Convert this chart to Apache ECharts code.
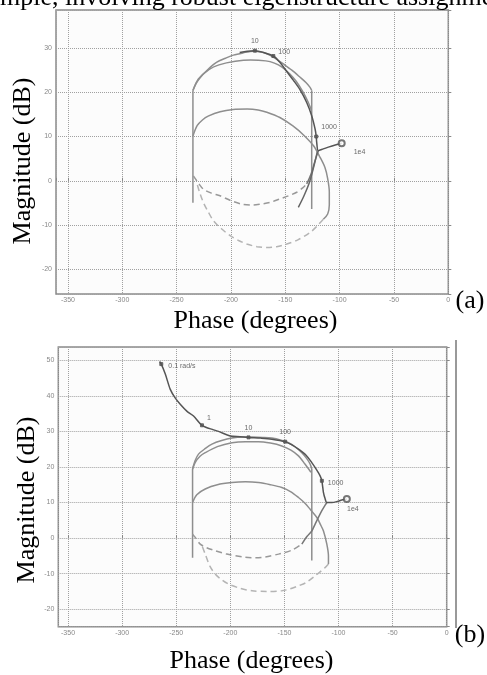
<!DOCTYPE html>
<html>
<head>
<meta charset="utf-8">
<script src="https://cdn.jsdelivr.net/npm/echarts@6/dist/echarts.min.js"></script>
<style>
html, body { margin: 0; padding: 0; background: #fff; }
#chart { width: 487px; height: 675px; }
</style>
</head>
<body>
<div id="chart"></div>
<script>
// ---- (a) phase (deg), magnitude (dB) ----
const aLeftEdge = [[-235, -5], [-235, 20.4]]
const aRightEdge = [[-125.7, 20.4], [-125.7, -6.4]]
const aOuterArc = [[-235, 20.4], [-232, 22], [-228.4, 23.3], [-221, 25.2], [-213, 26.8], [-205, 27.7], [-197.8, 28.4], [-189, 28.9], [-179.4, 29.3], [-172, 29.1], [-167, 28.7], [-160, 27.8], [-151.8, 26.4], [-144, 25], [-136.4, 23.4], [-131, 22.2], [-127.2, 21.1], [-125.7, 20.4]]
const aInnerArc = [[-235, 20.4], [-230, 23], [-220, 25.2], [-211, 26.2], [-196, 27], [-182, 27.3], [-168, 27.1], [-160, 26.6], [-153, 25.7], [-146, 24.2], [-140, 22.5], [-134, 20.2], [-129, 17.8], [-126, 16]]
const aLowerArc = [[-235, 10.1], [-231, 12.5], [-226, 13.8], [-221, 14.6], [-210, 15.6], [-198, 16.1], [-185, 16.2], [-175, 16], [-167, 15.5], [-155, 14.3], [-143, 12.4], [-133, 10.3], [-124, 7.9], [-118, 5.3], [-113.5, 3], [-111, 0.5], [-109.5, -2.5], [-109.5, -5.5], [-111, -7.5], [-115, -8.7]]
const aLowerDashed = [[-115, -8.7], [-121, -10.3], [-127.2, -11.7], [-138, -13.3], [-148.7, -14.3], [-158, -14.9], [-167.1, -15.1], [-176, -14.9], [-185.5, -14.3], [-193, -13.5], [-200.8, -12.4], [-209, -10.8], [-216.2, -9], [-221, -7], [-225.4, -4.9], [-229, -2.5], [-231.5, -0.4]]
const aInnerDashed = [[-234.6, 1.1], [-230, -0.5], [-225.4, -1.9], [-218, -2.8], [-210, -3.4], [-200, -4.5], [-190, -5.3], [-181, -5.5], [-173.2, -5.3], [-164, -4.9], [-154.9, -4.1], [-147, -3.4], [-139.5, -2.6], [-134, -1.6], [-130.3, -0.7]]
const aRising = [[-130.3, -0.7], [-128, 0.5], [-125.7, 1.9], [-123.5, 3.8], [-121.1, 5.7], [-119.6, 6.8]]
const aFalling = [[-120.5, 6.6], [-124, 3], [-128, -0.5], [-133, -3.5], [-138, -6]]
const aMain = [[-192, 29], [-185, 29.3], [-178, 29.4], [-170, 29], [-161, 28.2], [-155, 26.8], [-149, 24.8], [-142.5, 22.7], [-136.5, 20.6], [-130.3, 17.7], [-125.7, 14.7], [-122.6, 11.7], [-121.5, 10], [-121.1, 8.7], [-119.6, 6.8], [-115, 7.2], [-110.4, 7.6], [-104, 8.1], [-98.1, 8.5]]
const aMarkNames = ['10', '100', '1000', '1e4']
const aMarkPoints = [[-178, 29.4], [-161, 28.2], [-121.5, 10], [-98.1, 8.5]]

// ---- (b) ----
const bLeftEdge = [[-234.9, -5.5], [-234.9, 19.4]]
const bRightEdge = [[-124.7, 19.4], [-124.7, -6.3]]
const bOuterArc = [[-234.9, 19.4], [-232.5, 21.8], [-229.4, 23.6], [-223, 25.2], [-217, 26.4], [-208, 27.4], [-198.5, 28.1], [-189, 28.4], [-180, 28.4], [-170, 28.3], [-161.6, 28.1], [-153, 27.5], [-146.3, 26.8], [-140, 25.6], [-133.9, 24], [-129.5, 22.4], [-126.2, 20.8], [-124.7, 19.4]]
const bInnerArc = [[-234.9, 19.4], [-232.4, 21.3], [-228, 23], [-223.2, 24], [-212, 25.7], [-198.5, 26.8], [-186, 27.1], [-174, 27.1], [-163, 26.7], [-152.4, 25.9], [-144, 24.7], [-137, 23.1], [-131, 20.8], [-125.5, 18.5]]
const bLowerArc = [[-234.9, 10], [-231, 12.2], [-223.2, 13.8], [-212, 15], [-198.5, 15.6], [-186, 15.8], [-174, 15.6], [-163, 15], [-152.4, 14.2], [-144, 13], [-137, 11.4], [-131, 9.8], [-126.2, 8.1], [-120, 5.8], [-117, 4], [-113.9, 2], [-110.8, -1.7], [-109.3, -5], [-109.3, -7.3]]
const bLowerDashed = [[-109.3, -7.3], [-112.4, -8.3], [-121.6, -10.6], [-130, -12.5], [-137, -13.4], [-145, -14.3], [-152.4, -14.8], [-166, -15], [-180, -14.8], [-191, -14.1], [-201.7, -12.9], [-208, -11.7], [-214, -10.1], [-219, -7.8], [-223.2, -4.5], [-227, -1.5]]
const bInnerDashed = [[-234.9, 1.1], [-232.4, 0.2], [-227.8, -1.7], [-222, -2.7], [-215.5, -3.4], [-203.2, -4.5], [-186.3, -5.4], [-177, -5.5], [-167.8, -5.3], [-155.5, -4.5], [-143.1, -3.4], [-133.9, -1.7]]
const bRising = [[-133.9, -1.7], [-129, 0.5], [-124.7, 2], [-121.5, 4], [-118.6, 5.8], [-115.4, 7.7], [-112.5, 9.2], [-110.8, 10]]
const bMain = [[-265.4, 49.6], [-263.8, 48.9], [-260.1, 46.1], [-255.5, 41.8], [-251, 39.4], [-246.3, 37.6], [-240, 35.6], [-234, 34.3], [-226.2, 31.7], [-215.5, 30.4], [-210.9, 30], [-200.1, 28.7], [-191, 28.5], [-183.2, 28.3], [-172, 28.1], [-161.6, 27.8], [-149.3, 27.1], [-143, 26.2], [-137, 25], [-130, 23.3], [-124.7, 21.2], [-120.5, 19.3], [-117, 17.5], [-115.4, 16.1], [-113.9, 12.8], [-112.5, 11.2], [-110.8, 10], [-106.2, 10], [-101, 10.3], [-97, 10.7], [-92.3, 11]]
const bMarkNames = ['0.1 rad/s', '1', '10', '100', '1000', '1e4']
const bMarkPoints = [[-263.8, 48.9], [-226.2, 31.7], [-183.2, 28.3], [-149.3, 27.1], [-115.4, 16.1], [-92.3, 11]]

// label placement per chart
const aLabelPos = {
  '10': { position: 'top', distance: 4 },
  '100': { position: 'right', distance: 3, offset: [0, -4] },
  '1000': { position: 'right', distance: 3, offset: [0, -9] },
  '1e4': { position: 'right', distance: 8, offset: [0, 9] }
}
const bLabelPos = {
  '0.1 rad/s': { position: 'right', distance: 5, offset: [0, 2] },
  '1': { position: 'right', distance: 3, offset: [0, -7] },
  '10': { position: 'top', distance: 4 },
  '100': { position: 'top', distance: 4 },
  '1000': { position: 'right', distance: 4, offset: [0, 2] },
  '1e4': { position: 'bottom', distance: 3, offset: [6, 0] }
}

const chart = echarts.init(document.getElementById('chart'))

const serif = '"Liberation Serif", "Times New Roman", serif'

const line = (data, gi, color, width, type) => ({
  type: 'line',
  xAxisIndex: gi,
  yAxisIndex: gi,
  data,
  showSymbol: false,
  smooth: 0.3,
  lineStyle: { color, width, type: type || 'solid' },
  silent: true,
  z: 3
})

const marks = (names, points, gi, pos) => ({
  type: 'scatter',
  xAxisIndex: gi,
  yAxisIndex: gi,
  data: points.map((p, i) => ({
    name: names[i],
    value: p,
    symbol: names[i] === '1e4' ? 'emptyCircle' : 'rect',
    symbolSize: names[i] === '1e4' ? 6 : 3,
    label: Object.assign({ show: true }, pos[names[i]])
  })),
  itemStyle: { color: '#555', borderColor: '#555', borderWidth: 1 },
  label: { formatter: '{b}', fontSize: 7, color: '#444', fontFamily: 'Arial, sans-serif' },
  z: 5
})

const xAxisOf = (gi, min) => ({
  gridIndex: gi,
  type: 'value',
  min,
  max: 0,
  splitNumber: 7,
  minInterval: 50,
  maxInterval: 50,
  axisLine: { show: false },
  axisTick: { inside: true, length: 3, lineStyle: { color: '#888' } },
  axisLabel: {
    fontSize: 7,
    color: '#888',
    margin: 3,
    formatter: v => (Math.abs(v % 50) < 1e-6 ? String(v) : '')
  },
  splitLine: { show: true, lineStyle: { color: '#a0a0a0', type: 'dotted', width: 1 } }
})

const yAxisOf = (gi, min, max) => ({
  gridIndex: gi,
  type: 'value',
  min,
  max,
  splitNumber: 7,
  minInterval: 10,
  maxInterval: 10,
  axisLine: { show: false },
  axisTick: { inside: true, length: 3, lineStyle: { color: '#888' } },
  axisLabel: {
    fontSize: 7,
    color: '#888',
    margin: 4,
    formatter: v => (Math.abs(v % 10) < 1e-6 ? String(v) : '')
  },
  splitLine: { show: true, lineStyle: { color: '#a0a0a0', type: 'dotted', width: 1 } }
})

const dark = '#555'
const gray = '#8e8e8e'
const dashA = '#999'
const dashB = '#b4b4b4'

const option = {
  animation: false,
  grid: [
    { left: 56, right: 38.7, top: 10, bottom: 381, show: true, borderColor: '#8a8a8a', borderWidth: 1.5, backgroundColor: '#fcfcfc' },
    { left: 58.3, right: 40.3, top: 347, bottom: 48.3, show: true, borderColor: '#8a8a8a', borderWidth: 1.5, backgroundColor: '#fcfcfc' }
  ],
  xAxis: [xAxisOf(0, -361), xAxisOf(1, -359)],
  yAxis: [yAxisOf(0, -25.6, 38.6), yAxisOf(1, -24.9, 53.7)],
  series: [
    line(aLeftEdge, 0, gray, 1.5),
    line(aRightEdge, 0, gray, 1.5),
    line(aOuterArc, 0, gray, 1.5),
    line(aInnerArc, 0, gray, 1.5),
    line(aLowerArc, 0, gray, 1.5),
    line(aLowerDashed, 0, dashB, 1.5, [6, 4]),
    line(aInnerDashed, 0, dashA, 1.5, [6, 4]),
    line(aRising, 0, '#777', 1.5),
    line(aFalling, 0, '#666', 1.5),
    line(aMain, 0, dark, 1.5),
    marks(aMarkNames, aMarkPoints, 0, aLabelPos),

    line(bLeftEdge, 1, gray, 1.5),
    line(bRightEdge, 1, gray, 1.5),
    line(bOuterArc, 1, gray, 1.5),
    line(bInnerArc, 1, gray, 1.5),
    line(bLowerArc, 1, gray, 1.5),
    line(bLowerDashed, 1, dashB, 1.5, [6, 4]),
    line(bInnerDashed, 1, dashA, 1.5, [6, 4]),
    line(bRising, 1, '#777', 1.5),
    line(bMain, 1, dark, 1.5),
    marks(bMarkNames, bMarkPoints, 1, bLabelPos)
  ],
  graphic: [
    { type: 'text', x: 0, y: -2, style: { text: 'mple, involving robust eigenstructure assignment', font: '26px ' + serif, fill: '#000', verticalAlign: 'middle' } },
    { type: 'text', x: 23, y: 161, rotation: Math.PI / 2, style: { text: 'Magnitude (dB)', font: '26px ' + serif, fill: '#000', align: 'center', verticalAlign: 'middle' } },
    { type: 'text', x: 255.5, y: 321.5, style: { text: 'Phase (degrees)', font: '26px ' + serif, fill: '#000', align: 'center', verticalAlign: 'middle' } },
    { type: 'text', x: 470, y: 301.5, style: { text: '(a)', font: '26px ' + serif, fill: '#000', align: 'center', verticalAlign: 'middle' } },
    { type: 'text', x: 27, y: 500, rotation: Math.PI / 2, style: { text: 'Magnitude (dB)', font: '26px ' + serif, fill: '#000', align: 'center', verticalAlign: 'middle' } },
    { type: 'text', x: 251.5, y: 661.5, style: { text: 'Phase (degrees)', font: '26px ' + serif, fill: '#000', align: 'center', verticalAlign: 'middle' } },
    { type: 'text', x: 470, y: 635, style: { text: '(b)', font: '26px ' + serif, fill: '#000', align: 'center', verticalAlign: 'middle' } },
    { type: 'line', shape: { x1: 456, y1: 340, x2: 456, y2: 628 }, style: { stroke: '#777', lineWidth: 1.5 } }
  ]
}

chart.setOption(option)
</script>
</body>
</html>
